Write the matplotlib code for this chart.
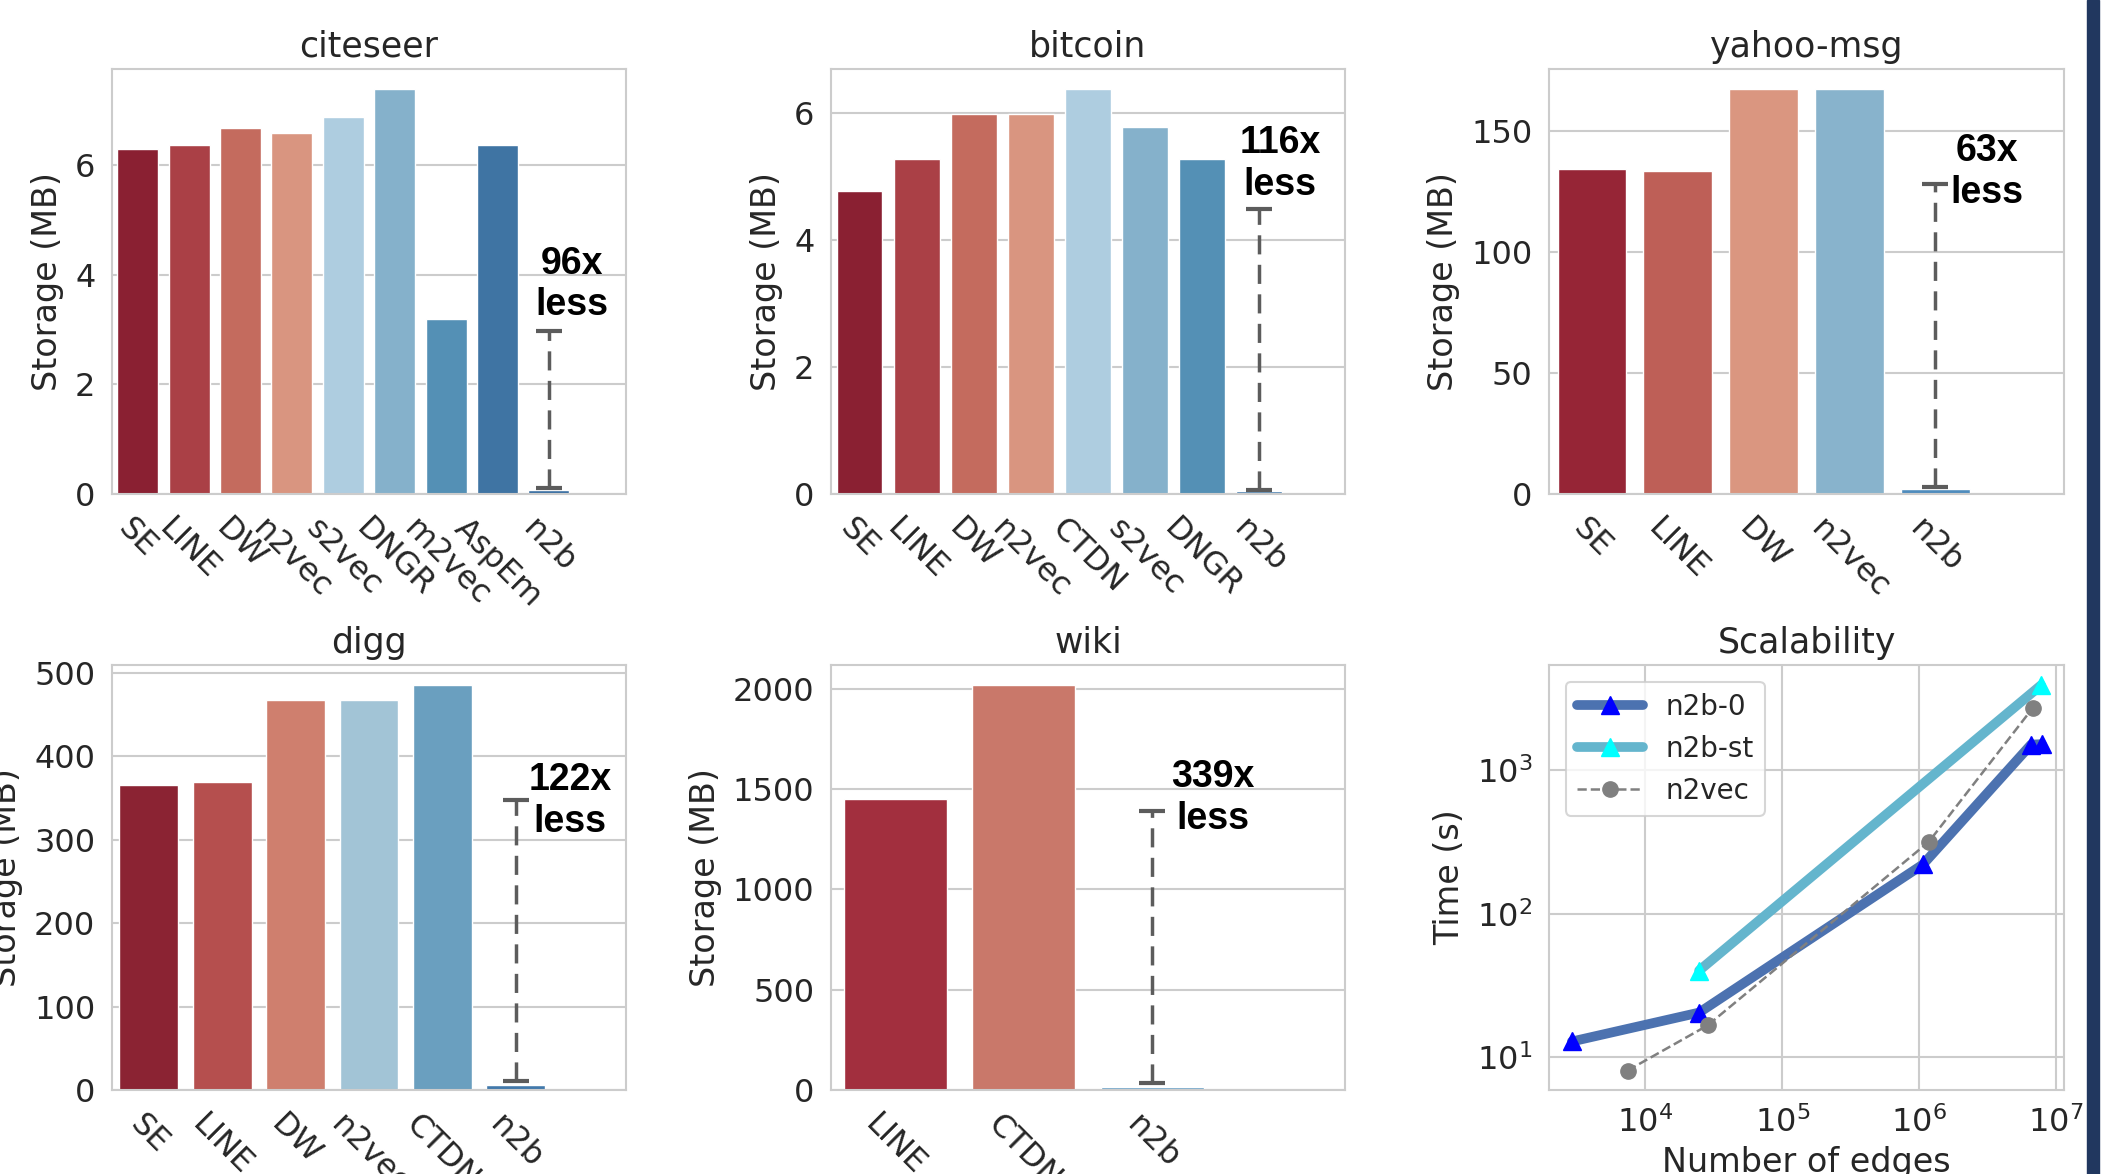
import matplotlib
matplotlib.use('Agg')
import matplotlib.pyplot as plt
from matplotlib.patches import Rectangle

# storage per method (MB)
citeseer_methods = ['SE', 'LINE', 'DW', 'n2vec', 's2vec', 'DNGR', 'm2vec', 'AspEm', 'n2b']
citeseer_storage = [6.29, 6.37, 6.68, 6.59, 6.87, 7.38, 3.19, 6.37, 0.07]
citeseer_range = [0.11, 2.98]
citeseer_yticks = [0, 2, 4, 6]

bitcoin_methods = ['SE', 'LINE', 'DW', 'n2vec', 'CTDN', 's2vec', 'DNGR', 'n2b']
bitcoin_storage = [4.78, 5.28, 5.99, 5.99, 6.38, 5.78, 5.28, 0.05]
bitcoin_range = [0.07, 4.5]
bitcoin_yticks = [0, 2, 4, 6]

yahoo_methods = ['SE', 'LINE', 'DW', 'n2vec', 'n2b']
yahoo_storage = [134.3, 133.6, 167.3, 167.3, 2.1]
yahoo_range = [2.8, 128]
yahoo_yticks = [0, 50, 100, 150]

digg_methods = ['SE', 'LINE', 'DW', 'n2vec', 'CTDN', 'n2b']
digg_storage = [366, 369.5, 467, 467, 485, 5.5]
digg_range = [11, 347]
digg_yticks = [0, 100, 200, 300, 400, 500]

wiki_methods = ['LINE', 'CTDN', 'n2b']
wiki_storage = [1450, 2018, 15]
wiki_range = [37, 1389]
wiki_yticks = [0, 500, 1000, 1500, 2000]

reductions = ['96x', '116x', '63x', '122x', '339x']

# scalability (edges vs seconds)
n2b0_edges = [2.9e3, 2.47e4, 1.07e6, 6.6e6, 7.9e6]
n2b0_time = [12.9, 20.5, 220, 1500, 1510]
n2bst_edges = [2.47e4, 7.8e6]
n2bst_time = [40.2, 3880]
n2vec_edges = [7.4e3, 2.85e4, 1.18e6, 6.8e6]
n2vec_time = [8.1, 16.7, 316, 2700]

# bar colours per panel
citeseer_colors = ['#8a2032', '#aa4046', '#c46b5e', '#d99580', '#aecde0',
                   '#85b1cb', '#5490b5', '#3f74a3', '#3b6fa2']
bitcoin_colors = ['#8a2032', '#aa4046', '#c46b5e', '#d99580', '#aecde0',
                  '#85b1cb', '#5490b5', '#4a80b0']
yahoo_colors = ['#962536', '#be5f57', '#da9680', '#88b3cc', '#4f8cbd']
digg_colors = ['#8b2333', '#b54f4e', '#cf7f6e', '#a2c4d6', '#6a9fbf', '#4279ab']
wiki_colors = ['#a22f3e', '#c9786a', '#6aa0c6']

TXT = '#262626'
EDGE = '#cccccc'
plt.rcParams['font.family'] = 'DejaVu Sans'
plt.rcParams['text.color'] = TXT
plt.rcParams['axes.labelcolor'] = TXT
plt.rcParams['xtick.color'] = TXT
plt.rcParams['ytick.color'] = TXT

W, H = 2115, 1174
fig = plt.figure(figsize=(W / 100, H / 100), dpi=100)


def px_axes(l, t, r, b):
    return fig.add_axes([l / W, 1 - b / H, (r - l) / W, (b - t) / H])


def style(ax):
    for s in ax.spines.values():
        s.set_color(EDGE)
        s.set_linewidth(1.5)
    ax.set_axisbelow(True)
    ax.tick_params(length=0, pad=12, labelsize=23)


def bar_panel(ax, title, methods, storage, colors, rng, yticks, label, txt_dx, txt_y):
    style(ax)
    x = list(range(len(methods)))
    ax.bar(x, storage, width=0.8, color=colors, edgecolor='white', linewidth=1)
    ax.set_xlim(-0.5, len(methods) + 0.5)
    ax.set_ylim(0, max(storage) * 1.05)
    ax.set_yticks(yticks)
    ax.set_xticks(x)
    ax.set_xticklabels(methods, rotation=-45, ha='center')
    ax.tick_params(axis='x', pad=14)
    ax.grid(axis='y', color=EDGE, linewidth=1.5)
    ax.grid(axis='x', visible=False)
    ax.set_title(title, fontsize=25, pad=9)
    ax.set_ylabel('Storage (MB)', fontsize=24, labelpad=8)

    # dashed range from n2b up to the reduction note
    i = len(methods) - 1
    eb = ax.errorbar(i, (rng[0] + rng[1]) / 2, yerr=(rng[1] - rng[0]) / 2, fmt='none',
                     ecolor='#5c5c5c', elinewidth=2.5, capsize=9.5, capthick=3)
    eb.lines[2][0].set_linestyle((0, (5.5, 3)))
    ax.text(i + txt_dx, txt_y, label + '\nless', ha='center', va='center',
            fontsize=27, fontweight='bold', color='black', linespacing=1.2,
            family=['Liberation Sans Narrow', 'Liberation Sans'])


bar_panel(px_axes(112, 69, 626, 494), 'citeseer', citeseer_methods, citeseer_storage,
          citeseer_colors, citeseer_range, citeseer_yticks, reductions[0], 0.44, 3.82)
bar_panel(px_axes(831, 69, 1345, 494), 'bitcoin', bitcoin_methods, bitcoin_storage,
          bitcoin_colors, bitcoin_range, bitcoin_yticks, reductions[1], 0.36, 5.2)
bar_panel(px_axes(1549, 69, 2064, 494), 'yahoo-msg', yahoo_methods, yahoo_storage,
          yahoo_colors, yahoo_range, yahoo_yticks, reductions[2], 0.60, 133)
bar_panel(px_axes(112, 665, 626, 1090), 'digg', digg_methods, digg_storage,
          digg_colors, digg_range, digg_yticks, reductions[3], 0.74, 346)
bar_panel(px_axes(831, 665, 1345, 1090), 'wiki', wiki_methods, wiki_storage,
          wiki_colors, wiki_range, wiki_yticks, reductions[4], 0.47, 1456)

# scalability panel
ax = px_axes(1549, 665, 2064, 1090)
style(ax)
ax.set_xscale('log')
ax.set_yscale('log')
ax.plot(n2b0_edges, n2b0_time, color='#4c72b0', lw=7, marker='^', ms=13,
        mfc='#0000ff', mec='#0000ff', solid_capstyle='round', label='n2b-0')
ax.plot(n2bst_edges, n2bst_time, color='#64b5cd', lw=7, marker='^', ms=13,
        mfc='#00ffff', mec='#00ffff', solid_capstyle='round', label='n2b-st')
ax.plot(n2vec_edges, n2vec_time, color='#808080', lw=1.8, ls='--', marker='o', ms=11,
        label='n2vec')
ax.set_xlim(1970, 1.15e7)
ax.set_ylim(5.93, 5370)
ax.grid(True, which='major', color=EDGE, linewidth=1.5)
ax.minorticks_off()
ax.set_title('Scalability', fontsize=25, pad=9)
ax.set_ylabel('Time (s)', fontsize=24, labelpad=8)
ax.set_xlabel('Number of edges', fontsize=24, labelpad=5)
leg = ax.legend(loc='upper left', fontsize=20, handlelength=2.4, frameon=True,
                fancybox=True, edgecolor=EDGE, borderaxespad=0.6)
leg.get_frame().set_linewidth(1.5)

# dark stripe on the right edge
fig.patches.append(Rectangle((2087 / W, 0), 12 / W, 1, transform=fig.transFigure,
                             color='#21375f', zorder=10))

fig.savefig('out.png', dpi=100)
